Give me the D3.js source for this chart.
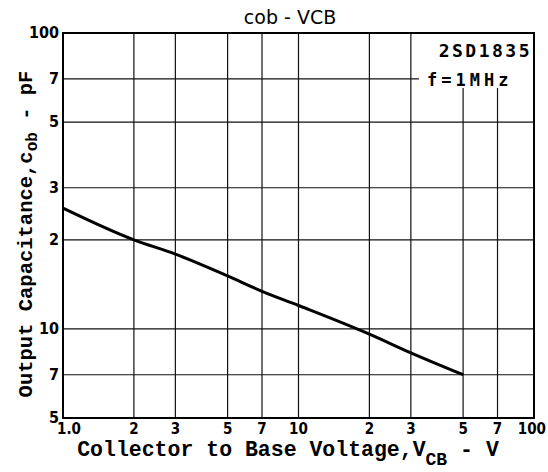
<!DOCTYPE html>
<html>
<head>
<meta charset="utf-8">
<script src="https://cdn.jsdelivr.net/npm/d3@7"></script>
<style>
  body { margin: 0; background: #fff; }
  svg { display: block; }
</style>
</head>
<body>
<div id="chart"></div>
<script>
// Cob vs VCB, 2SD1835, f = 1MHz (log-log)
const vcb = [1, 2, 3, 5, 7, 10, 20, 30, 50];
const cob = [25.6, 20, 17.9, 15.1, 13.4, 12.0, 9.6, 8.3, 7.0];

const xGrid = [2, 3, 5, 7, 10, 20, 30, 50, 70];
const xTicks = [1, 2, 3, 5, 7, 10, 20, 30, 50, 70, 100];
const xTickLabels = ["1.0", "2", "3", "5", "7", "10", "2", "3", "5", "7", "100"];
const yGrid = [70, 50, 30, 20, 10, 7];
const yTicks = [100, 70, 50, 30, 20, 10, 7, 5];
const yTickLabels = ["100", "7", "5", "3", "2", "10", "7", "5"];

const width = 548;
const height = 472;
const margin = { top: 33, right: 14, bottom: 54, left: 63 };

const svg = d3.select('#chart')
  .append('svg')
  .attr('width', width)
  .attr('height', height);

const x = d3.scaleLog()
  .domain([1, 100])
  .range([margin.left, width - margin.right]);

const y = d3.scaleLog()
  .domain([5, 100])
  .range([height - margin.bottom, margin.top]);

// the label box in the upper right covers part of the grid
const boxLeft = x(30);
const boxBottom = 88;

// grid
const grid = svg.append('g')
  .attr('stroke', '#111')
  .attr('stroke-width', 1.2);

grid.selectAll('line.vx')
  .data(xGrid)
  .join('line')
    .attr('class', 'vx')
    .attr('x1', d => x(d))
    .attr('x2', d => x(d))
    .attr('y1', d => d > 30 ? boxBottom : margin.top)
    .attr('y2', height - margin.bottom);

grid.selectAll('line.hy')
  .data(yGrid)
  .join('line')
    .attr('class', 'hy')
    .attr('x1', margin.left)
    .attr('x2', d => y(d) < boxBottom ? boxLeft + 8 : width - margin.right)
    .attr('y1', d => y(d))
    .attr('y2', d => y(d));

// frame
svg.append('rect')
  .attr('x', margin.left)
  .attr('y', margin.top)
  .attr('width', width - margin.left - margin.right)
  .attr('height', height - margin.top - margin.bottom)
  .attr('fill', 'none')
  .attr('stroke', '#000')
  .attr('stroke-width', 2);

// curve
const line = d3.line()
  .x((d, i) => x(vcb[i]))
  .y(d => y(d))
  .curve(d3.curveMonotoneX);

svg.append('path')
  .datum(cob)
  .attr('d', line)
  .attr('fill', 'none')
  .attr('stroke', '#000')
  .attr('stroke-width', 3);

// tick labels
svg.append('g')
  .selectAll('text')
  .data(xTicks)
  .join('text')
    .attr('x', d => x(d))
    .attr('y', height - margin.bottom + 16)
    .attr('text-anchor', (d, i) => i === 0 ? 'start' : (i === xTicks.length - 1 ? 'end' : 'middle'))
    .attr('dx', (d, i) => i === 0 ? -6 : (i === xTicks.length - 1 ? 12 : 0))
    .attr('font-family', 'DejaVu Sans Condensed, DejaVu Sans')
    .attr('font-weight', 'bold')
    .attr('font-size', 15)
    .text((d, i) => xTickLabels[i]);

svg.append('g')
  .selectAll('text')
  .data(yTicks)
  .join('text')
    .attr('x', margin.left - 4)
    .attr('y', d => y(d) + 5)
    .attr('text-anchor', 'end')
    .attr('font-family', 'DejaVu Sans Condensed, DejaVu Sans')
    .attr('font-weight', 'bold')
    .attr('font-size', 16)
    .text((d, i) => yTickLabels[i]);

// title
svg.append('text')
  .attr('x', 290)
  .attr('y', 24)
  .attr('text-anchor', 'middle')
  .attr('font-family', 'DejaVu Sans')
  .attr('font-size', 19)
  .text('cob - VCB');

// part number and frequency
svg.append('text')
  .attr('x', 532)
  .attr('y', 57)
  .attr('text-anchor', 'end')
  .attr('font-family', 'DejaVu Sans Mono')
  .attr('font-weight', 'bold')
  .attr('font-size', 18)
  .attr('letter-spacing', 2.5)
  .text('2SD1835');

svg.append('text')
  .attr('x', 427)
  .attr('y', 86)
  .attr('font-family', 'DejaVu Sans Mono')
  .attr('font-weight', 'bold')
  .attr('font-size', 17)
  .attr('letter-spacing', 4)
  .text('f=1MHz');

// axis titles
const xt = svg.append('text')
  .attr('x', 288)
  .attr('y', 456)
  .attr('text-anchor', 'middle')
  .attr('font-family', 'Liberation Mono')
  .attr('font-weight', 'bold')
  .attr('font-size', 21.5)
  .text('Collector to Base Voltage,V');
xt.append('tspan').attr('dy', 9).attr('font-size', 18).text('CB');
xt.append('tspan').attr('dy', -9).text(' - V');

const yt = svg.append('text')
  .attr('transform', 'translate(32,234) rotate(-90)')
  .attr('text-anchor', 'middle')
  .attr('font-family', 'Liberation Mono')
  .attr('font-weight', 'bold')
  .attr('font-size', 20.5)
  .text('Output Capacitance,c');
yt.append('tspan').attr('dy', 5).attr('font-size', 16).text('ob');
yt.append('tspan').attr('dy', -5).text(' - pF');
</script>
</body>
</html>
